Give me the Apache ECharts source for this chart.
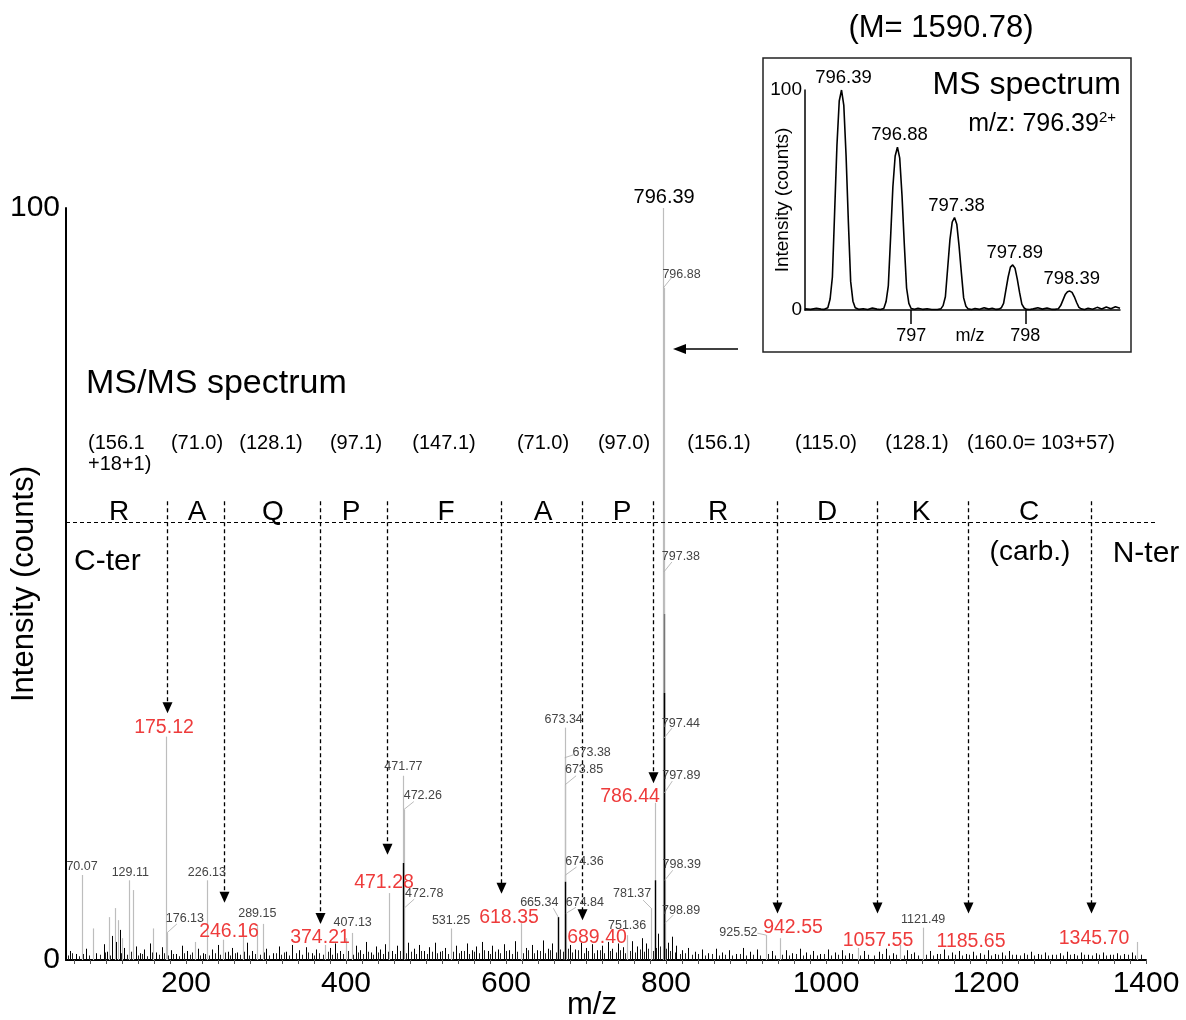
<!DOCTYPE html>
<html><head><meta charset="utf-8">
<script src="https://cdn.jsdelivr.net/npm/echarts@6/dist/echarts.min.js"></script>
<style>html,body{margin:0;padding:0;background:#fff}#c{width:1186px;height:1020px}</style>
</head><body><div id="c"></div>
<script>
// ---------------- DATA ----------------
const xTickLabels = [200, 400, 600, 800, 1000, 1200, 1400];
const yTickLabels = [0, 100];

// centroid (grey) peaks of the MS/MS spectrum: [m/z, relative intensity %]
const stickPeaks = [
  [70.07, 11.3], [84, 4.2], [104, 5.7], [111, 6.9], [115, 5.3], [120, 2.9],
  [129.11, 10.6], [134, 9.3], [159, 4.2], [175.12, 29.7], [176.13, 3.6], [211, 2.4],
  [226.13, 10.6], [246.16, 2.7], [271, 4.0], [289.15, 4.7], [296, 4.8], [374.21, 2.0],
  [400, 2.9], [407.13, 3.6], [454, 8.9], [471.77, 24.5], [472.26, 20.0], [472.78, 6.9],
  [531.25, 4.2], [618.35, 4.9], [665.34, 5.7], [673.34, 30.9], [673.38, 26.9],
  [673.85, 23.3], [674.36, 11.3], [674.84, 6.2], [751.36, 3.3], [781.37, 6.9],
  [786.44, 20.9], [796.39, 100], [796.88, 89.4], [797.38, 51.6], [797.44, 29.5],
  [797.89, 22.2], [798.39, 10.6], [798.89, 4.9], [925.52, 3.3], [942.55, 2.9],
  [1040, 1.6], [1092, 2.0], [1121.49, 4.3], [1389, 2.4]
];
// raw profile (black) peaks
const profilePeaks = [
  [471.8, 12.9], [665.34, 5.7], [673.5, 10.4], [786.6, 10.6], [797.1, 35.5]
];
const profileMidPeaks = [[797.0, 46]];
// baseline noise
const noisePeaks = [
  [55,1.2],[62,0.8],[75,1.5],[88,0.9],[97,2.1],[101,1.1],[108,3.2],[113,2.4],[117,4.0],[122,1.6],
  [137,1.8],[142,0.9],[148,1.4],[155,2.2],[163,1.0],[170,1.7],[181,1.3],[188,0.8],[195,1.9],[201,1.2],
  [215,1.5],[221,0.9],[233,1.4],[240,2.0],[252,1.1],[258,1.6],[264,1.0],[276,2.3],[283,1.2],[300,1.5],
  [309,0.9],[316,1.8],[325,1.1],[333,2.0],[341,1.3],[350,1.7],[357,0.9],[362,1.4],[380,1.6],[386,2.2],
  [392,1.2],[412,1.9],[418,1.3],[425,2.4],[431,1.0],[437,1.8],[443,1.4],[449,2.1],[458,1.2],[464,1.9],
  [478,2.3],[485,1.5],[491,2.0],[498,1.2],[504,1.7],[511,2.3],[517,1.1],[524,1.6],[538,1.9],[544,1.2],
  [551,2.2],[557,1.3],[563,1.8],[570,2.4],[577,1.2],[583,1.9],[590,1.4],[597,2.1],[604,1.3],[611,2.5],
  [625,1.6],[632,2.0],[639,1.3],[646,2.6],[652,1.5],[658,2.2],[680,2.0],[686,1.4],[694,2.3],[700,1.6],
  [707,2.1],[714,1.3],[720,1.9],[727,2.4],[733,1.5],[740,2.2],[746,1.7],[758,2.5],[764,1.8],[770,2.9],
  [775,2.2],[790,3.5],[803,2.3],[808,3.1],[813,1.9],[820,1.3],[828,1.6],[836,1.1],[845,1.4],[853,0.9],
  [862,1.5],[870,1.0],[879,1.3],[888,0.8],[896,1.6],[905,1.1],[914,1.4],[932,1.2],[950,1.3],[958,0.9],
  [967,1.5],[975,1.0],[984,1.2],[993,0.8],[1002,1.4],[1011,1.0],[1020,1.3],[1029,0.9],[1048,1.2],[1066,1.1],
  [1075,1.5],[1084,0.9],[1101,1.3],[1110,1.0],[1130,1.2],[1139,0.8],[1148,1.4],[1157,1.0],[1166,1.2],[1175,0.8],
  [1184,1.1],[1193,0.9],[1202,1.3],[1211,0.8],[1220,1.0],[1229,1.2],[1238,0.7],[1247,0.9],[1256,1.1],[1265,0.8],
  [1274,1.0],[1283,0.7],[1292,0.9],[1301,1.1],[1310,0.8],[1319,1.0],[1328,0.7],[1337,0.9],[1346,1.0],[1355,0.7],
  [1364,0.9],[1373,0.8],[1382,1.0]
];
// finer baseline fuzz
const noiseFine = [
  [52,0.6],[58,0.9],[66,0.5],[71,0.8],[79,0.6],[92,0.7],[99,1.0],[105,0.6],[119,0.9],[126,0.7],
  [131,1.1],[140,0.6],[145,0.8],[151,0.5],[158,1.0],[166,0.7],[173,0.9],[178,0.6],[184,0.8],[191,0.5],
  [198,0.9],[205,0.7],[208,1.0],[218,0.6],[224,0.8],[229,0.6],[236,0.9],[243,0.7],[249,1.0],[255,0.6],
  [261,0.9],[268,0.7],[273,1.1],[279,0.6],[286,0.8],[292,0.7],[298,1.0],[304,0.6],[312,0.9],[319,0.7],
  [322,1.0],[329,0.6],[337,0.9],[345,0.7],[353,1.0],[360,0.6],[366,0.9],[371,0.7],[377,1.1],[383,0.7],
  [389,0.9],[396,0.8],[403,1.2],[409,0.7],[415,1.0],[421,0.8],[428,1.1],[434,0.7],[440,1.0],[446,0.8],
  [452,1.1],[461,0.8],[467,1.2],[475,0.9],[481,1.1],[488,0.8],[494,1.2],[501,0.8],[507,1.1],[514,0.9],
  [520,1.2],[527,0.8],[534,1.1],[541,0.9],[547,1.2],[554,0.8],[560,1.1],[566,0.9],[573,1.3],[580,0.8],
  [586,1.1],[593,0.9],[600,1.2],[607,0.8],[614,1.1],[621,0.9],[628,1.3],[635,0.9],[642,1.2],[649,0.9],
  [655,1.3],[662,1.0],[668,1.4],[671,1.1],[677,1.5],[683,1.0],[690,1.3],[697,0.9],[703,1.2],[710,0.9],
  [717,1.3],[723,0.9],[730,1.2],[737,1.0],[743,1.3],[749,0.9],[755,1.2],[761,1.0],[767,1.4],[772,1.1],
  [778,1.5],[784,1.2],[788,1.6],[793,1.8],[800,1.5],[805,1.2],[811,1.0],[817,0.8],[824,0.9],[832,0.7],
  [840,0.8],[849,0.6],[857,0.8],[866,0.6],[874,0.7],[883,0.6],[892,0.8],[900,0.6],[909,0.7],[918,0.6],
  [927,0.8],[936,0.6],[945,0.7],[954,0.6],[962,0.8],[971,0.6],[980,0.7],[989,0.6],[998,0.8],[1006,0.6],
  [1015,0.7],[1024,0.6],[1033,0.8],[1043,0.6],[1052,0.7],[1060,0.6],[1070,0.8],[1079,0.6],[1088,0.7],[1097,0.6],
  [1106,0.8],[1115,0.6],[1125,0.7],[1134,0.6],[1143,0.8],[1152,0.6],[1161,0.7],[1170,0.6],[1179,0.7],[1188,0.6],
  [1197,0.7],[1206,0.6],[1215,0.7],[1224,0.6],[1233,0.7],[1242,0.6],[1251,0.7],[1260,0.6],[1269,0.7],[1278,0.6],
  [1287,0.7],[1296,0.6],[1305,0.7],[1314,0.6],[1323,0.7],[1332,0.6],[1341,0.7],[1350,0.6],[1359,0.7],[1368,0.6],
  [1377,0.7],[1386,0.6],[1394,0.7]
];
// peaks carrying a small black m/z label
const labeledMz = [70.07, 129.11, 176.13, 226.13, 289.15, 407.13, 471.77, 472.26, 472.78, 531.25,
  665.34, 673.34, 673.38, 673.85, 674.36, 674.84, 751.36, 781.37, 796.88, 797.38, 797.44,
  797.89, 798.39, 798.89, 925.52, 1121.49];
const basePeakMz = 796.39;

// fragment (y-ion) annotations
const fragmentLabels = ['175.12','246.16','374.21','471.28','618.35','689.40','786.44','942.55','1057.55','1185.65','1345.70'];
const arrowMz = [176.25, 247.5, 367.5, 451.25, 593.75, 695, 783.75, 938.75, 1063.75, 1177.5, 1331.25];
const arrowTip = [32.8, 7.6, 4.8, 14.0, 8.8, 5.3, 23.5, 6.2, 6.2, 6.2, 6.2];
const residues = ['R','A','Q','P','F','A','P','R','D','K','C'];
const residueMass = ['(156.1\n+18+1)','(71.0)','(128.1)','(97.1)','(147.1)','(71.0)','(97.0)','(156.1)','(115.0)','(128.1)','(160.0= 103+57)'];

// inset MS spectrum profile [m/z, intensity %]
const insetProfile = [
  [796.07,0.5],[796.12,0.3],[796.17,0.8],[796.21,0.4],
  [796.24,0.3],[796.27,1],[796.29,5],[796.31,15],[796.33,45],[796.35,75],[796.37,95],[796.39,100],[796.41,93],[796.43,70],[796.45,40],[796.47,13],[796.49,4],[796.51,1],[796.54,0.3],
  [796.58,0.6],[796.62,0.2],[796.66,0.9],[796.70,0.4],
  [796.73,0.2],[796.76,0.7],[796.78,3.7],[796.80,11],[796.82,33],[796.84,56],[796.86,70],[796.88,74],[796.90,69],[796.92,52],[796.94,30],[796.96,10],[796.98,3],[797.00,0.7],[797.03,0.3],
  [797.06,0.8],[797.10,0.3],[797.14,0.6],[797.18,0.2],
  [797.23,0.2],[797.26,0.5],[797.28,2],[797.30,6],[797.32,19],[797.34,32],[797.36,40],[797.38,42],[797.40,39],[797.42,29],[797.44,17],[797.46,5.5],[797.48,1.7],[797.50,0.5],[797.53,0.2],
  [797.56,0.7],[797.60,0.3],[797.64,1.0],[797.68,0.4],[797.71,0.8],
  [797.74,0.3],[797.77,0.4],[797.79,1],[797.81,3],[797.83,9],[797.85,15],[797.87,19.5],[797.89,20.5],[797.91,19],[797.93,14],[797.95,8],[797.97,2.7],[797.99,0.9],[798.01,0.3],[798.04,0.2],
  [798.07,0.5],[798.11,1.0],[798.15,0.4],[798.19,0.9],[798.23,0.3],
  [798.26,0.3],[798.29,0.6],[798.31,2],[798.33,4.5],[798.35,7],[798.37,8.3],[798.39,8.6],[798.41,8],[798.43,6],[798.45,3.4],[798.47,1.2],[798.49,0.5],[798.52,0.2],
  [798.55,0.8],[798.59,0.3],[798.63,1.2],[798.67,0.5],[798.71,1.4],[798.75,0.6],[798.79,1.5],[798.83,0.8]
];
const insetPeakMz = [796.39, 796.88, 797.38, 797.89, 798.39];
const insetPeakInt = [100, 74, 42, 20.5, 8.6];
const insetTicks = [797, 798];

// ---------------- LAYOUT (positions / styles) ----------------
const FONT = "'Liberation Sans', Arial, Helvetica, sans-serif";
const GREY = '#bdbdbd';
const RED = '#ee3b3b';
// label offsets from peak top: [dx, dy, leaderEndDx, leaderEndDy]
const labelOffsets = {
  '70.07':[0,-8], '129.11':[1,-8], '176.13':[18,-14,10,-9], '226.13':[0,-8], '289.15':[0,-11],
  '407.13':[1,-10], '471.77':[0,-9], '472.26':[19,-14,10,-8], '472.78':[20,-15,10,-9],
  '531.25':[0,-8], '665.34':[-19,-15,-5,-9], '673.34':[-1,-8], '673.38':[27,-5,9,-3],
  '673.85':[19,-15,11,-9], '674.36':[19,-13,11,-8], '674.84':[19,-11,10,-6], '751.36':[0,-10],
  '781.37':[-19,-15,-8,-8], '796.88':[18,-13,8,-10], '797.38':[17,-15,8,-10], '797.44':[17,-15,8,-10],
  '797.89':[17,-18,8,-12], '798.39':[17,-16,8,-10], '798.89':[16,-13,8,-8], '925.52':[-28,-3,-9,-2],
  '1121.49':[0,-8]
};
const fragLabelOffsets = [[-3,14],[5,29],[0,14],[-3,28],[8,24],[15,17],[-23,13],[16,14],[1,27],[3,28],[3,25]];
const arrowTopY = 61;          // in intensity units
const seqLineY = 58.25;
const seqLineX = [50, 1413.75];
const residueX = [116.25, 213.75, 308.75, 406.25, 525, 646.25, 745, 865, 1001.25, 1118.75, 1253.75];
const residueY = 59.6;
const massX = [77.5, 213.75, 306.25, 412.5, 522.5, 646.25, 747.5, 866.25, 1000, 1113.75, 1268.75];
const massY = 70.1;
const mainTexts = [
  {t:'MS/MS spectrum', x:75, y:76.6, size:34, align:'left'},
  {t:'C-ter', x:60, y:52.9, size:30, align:'left'},
  {t:'(carb.)', x:1255, y:54.25, size:28, align:'center'},
  {t:'N-ter', x:1400, y:54, size:30, align:'center'}
];
const callout = {from:[890, 81.25], to:[808.75, 81.25]};

const stickMap = {};
stickPeaks.forEach(p => { stickMap[p[0].toFixed(2)] = p[1]; });
const basePeakInt = stickMap[basePeakMz.toFixed(2)];

function stickSeries(data, color, width, z) {
  return {
    type: 'custom', xAxisIndex: 0, yAxisIndex: 0, z: z, clip: false,
    data: data, encode: {x: 0, y: 1}, silent: true,
    renderItem: function (params, api) {
      const a = api.coord([api.value(0), 0]);
      const b = api.coord([api.value(0), api.value(1)]);
      const x = Math.round(a[0]) + 0.5;
      return {type: 'line', shape: {x1: x, y1: a[1], x2: x, y2: b[1]},
        style: {stroke: color, lineWidth: width}};
    }
  };
}
const plain = v => String(v);

const chart = echarts.init(document.getElementById('c'), null, {renderer: 'canvas'});
const option = {
  animation: false,
  backgroundColor: '#fff',
  textStyle: {fontFamily: FONT},
  grid: [
    {left: 66, top: 208, width: 1080, height: 752, containLabel: false, outerBoundsMode: 'none'},
    {left: 805, top: 90, width: 315, height: 220, containLabel: false, outerBoundsMode: 'none'}
  ],
  xAxis: [
    {
      type: 'value', gridIndex: 0, min: 50, max: 1400,
      axisLine: {lineStyle: {color: '#000', width: 2}},
      axisTick: {show: true, customValues: Array.from({length: 68}, (_, i) => 60 + i * 20), length: 4, lineStyle: {color: '#555', width: 1}},
      axisLabel: {customValues: xTickLabels, formatter: plain, fontSize: 30, color: '#000', margin: 9, fontFamily: FONT},
      splitLine: {show: false},
      name: 'm/z', nameLocation: 'middle', nameGap: 30, nameMoveOverlap: false,
      nameTextStyle: {fontSize: 31, color: '#000', fontFamily: FONT, padding: [0, 28, 0, 0]}
    },
    {
      type: 'value', gridIndex: 1, min: 796.07, max: 798.83,
      axisLine: {lineStyle: {color: '#000', width: 1.5}},
      axisTick: {show: true, customValues: insetTicks, length: 14, lineStyle: {color: '#000', width: 1.5}},
      axisLabel: {customValues: insetTicks, formatter: plain, fontSize: 18, color: '#000', margin: 17, fontFamily: FONT},
      splitLine: {show: false},
      name: 'm/z', nameLocation: 'middle', nameGap: 17, nameMoveOverlap: false,
      nameTextStyle: {fontSize: 18, color: '#000', fontFamily: FONT, padding: [0, 0, 0, 15]}
    }
  ],
  yAxis: [
    {
      type: 'value', gridIndex: 0, min: 0, max: 100,
      axisLine: {show: true, lineStyle: {color: '#000', width: 2}},
      axisTick: {show: false},
      axisLabel: {customValues: yTickLabels, formatter: plain, fontSize: 30, color: '#000', margin: 6, fontFamily: FONT},
      splitLine: {show: false},
      name: 'Intensity (counts)', nameLocation: 'middle', nameGap: 26, nameRotate: 90, nameMoveOverlap: false,
      nameTextStyle: {fontSize: 31, color: '#000', fontFamily: FONT}
    },
    {
      type: 'value', gridIndex: 1, min: 0, max: 100,
      axisLine: {show: true, lineStyle: {color: '#000', width: 1.5}},
      axisTick: {show: false},
      axisLabel: {customValues: [0, 100], formatter: plain, fontSize: 19, color: '#000', margin: 3, fontFamily: FONT},
      splitLine: {show: false},
      name: 'Intensity (counts)', nameLocation: 'middle', nameGap: 13, nameRotate: 90, nameMoveOverlap: false,
      nameTextStyle: {fontSize: 19, color: '#000', fontFamily: FONT}
    }
  ],
  graphic: [
    {type: 'rect', shape: {x: 763, y: 58, width: 368, height: 294}, style: {fill: 'none', stroke: '#222', lineWidth: 1.5}, z: 1},
    {type: 'text', x: 941, y: 28, style: {text: '(M= 1590.78)', font: '31px ' + FONT, fill: '#000', align: 'center', verticalAlign: 'middle'}},
    {type: 'text', x: 1121, y: 85, style: {text: 'MS spectrum', font: '32px ' + FONT, fill: '#000', align: 'right', verticalAlign: 'middle'}},
    {type: 'text', x: 1116, y: 124, style: {
      text: '{a|m/z: 796.39}{s|2+}', align: 'right', verticalAlign: 'middle',
      rich: {a: {fontSize: 25, fontFamily: FONT, fill: '#000'}, s: {fontSize: 15, fontFamily: FONT, fill: '#000', padding: [0, 0, 13, 0]}}
    }}
  ],
  series: [
    stickSeries(noiseFine, '#222', 1, 3),
    stickSeries(noisePeaks, '#000', 1, 3),
    stickSeries(stickPeaks, GREY, 1.2, 2),
    stickSeries(profileMidPeaks, '#777', 1.4, 4),
    stickSeries(profilePeaks, '#000', 1.4, 5),
    // small black m/z labels with leaders
    {
      type: 'custom', xAxisIndex: 0, yAxisIndex: 0, z: 10, clip: false, silent: true,
      data: labeledMz.map(m => [m, stickMap[m.toFixed(2)]]), encode: {x: 0, y: 1},
      renderItem: function (params, api) {
        const txt = labeledMz[params.dataIndex].toFixed(2);
        const off = labelOffsets[txt];
        const p = api.coord([api.value(0), api.value(1)]);
        const ch = [{type: 'text', x: p[0] + off[0], y: p[1] + off[1],
          style: {text: txt, font: '12.5px ' + FONT, fill: '#444', align: 'center', verticalAlign: 'middle'}}];
        if (off.length > 2) {
          ch.push({type: 'line', shape: {x1: p[0], y1: p[1], x2: p[0] + off[2], y2: p[1] + off[3]},
            style: {stroke: '#aaa', lineWidth: 0.8}});
        }
        return {type: 'group', children: ch};
      }
    },
    // base peak label
    {
      type: 'custom', xAxisIndex: 0, yAxisIndex: 0, z: 10, clip: false, silent: true,
      data: [[basePeakMz, basePeakInt]], encode: {x: 0, y: 1},
      renderItem: function (params, api) {
        const p = api.coord([api.value(0), api.value(1)]);
        return {type: 'text', x: p[0] + 1, y: p[1] - 11,
          style: {text: basePeakMz.toFixed(2), font: '20px ' + FONT, fill: '#000', align: 'center', verticalAlign: 'middle'}};
      }
    },
    // fragment arrows + red labels
    {
      type: 'custom', xAxisIndex: 0, yAxisIndex: 0, z: 8, clip: false, silent: true,
      data: arrowMz.map((m, i) => [m, arrowTip[i]]), encode: {x: 0, y: 1},
      renderItem: function (params, api) {
        const i = params.dataIndex;
        const top = api.coord([api.value(0), arrowTopY]);
        const tip = api.coord([api.value(0), api.value(1)]);
        const x = Math.round(tip[0]) + 0.5;
        const off = fragLabelOffsets[i];
        return {type: 'group', children: [
          {type: 'line', shape: {x1: x, y1: top[1], x2: x, y2: tip[1] - 9},
            style: {stroke: '#000', lineWidth: 1.3, lineDash: [4, 3]}},
          {type: 'polygon', shape: {points: [[x - 5, tip[1] - 11], [x + 5, tip[1] - 11], [x, tip[1]]]},
            style: {fill: '#000'}},
          {type: 'text', x: tip[0] + off[0], y: tip[1] + off[1],
            style: {text: fragmentLabels[i], font: '19.5px ' + FONT, fill: RED, align: 'center', verticalAlign: 'middle'}}
        ]};
      }
    },
    // sequence line, residues, masses, texts, callout arrow
    {
      type: 'custom', xAxisIndex: 0, yAxisIndex: 0, z: 7, clip: false, silent: true,
      data: [[0, 0]], encode: {x: 0, y: 1},
      renderItem: function (params, api) {
        const ch = [];
        const a = api.coord([seqLineX[0], seqLineY]);
        const b = api.coord([seqLineX[1], seqLineY]);
        const yy = Math.round(a[1]) + 0.5;
        ch.push({type: 'line', shape: {x1: a[0], y1: yy, x2: b[0], y2: yy},
          style: {stroke: '#000', lineWidth: 1.2, lineDash: [4, 3]}});
        residues.forEach((r, i) => {
          const p = api.coord([residueX[i], residueY]);
          ch.push({type: 'text', x: p[0], y: p[1], style: {text: r, font: '28px ' + FONT, fill: '#000', align: 'center', verticalAlign: 'middle'}});
        });
        residueMass.forEach((t, i) => {
          const p = api.coord([massX[i], massY]);
          ch.push({type: 'text', x: p[0], y: p[1], style: {text: t, font: '20px ' + FONT, lineHeight: 21, fill: '#000', align: i === 0 ? 'left' : 'center', verticalAlign: 'top'}});
        });
        mainTexts.forEach(o => {
          const p = api.coord([o.x, o.y]);
          ch.push({type: 'text', x: p[0], y: p[1], style: {text: o.t, font: o.size + 'px ' + FONT, fill: '#000', align: o.align, verticalAlign: 'middle'}});
        });
        const f = api.coord(callout.from), t = api.coord(callout.to);
        ch.push({type: 'line', shape: {x1: f[0], y1: f[1], x2: t[0] + 10, y2: t[1]}, style: {stroke: '#000', lineWidth: 1.5}});
        ch.push({type: 'polygon', shape: {points: [[t[0], t[1]], [t[0] + 13, t[1] - 5], [t[0] + 13, t[1] + 5]]}, style: {fill: '#000'}});
        return {type: 'group', children: ch};
      }
    },
    // inset profile
    {
      type: 'line', xAxisIndex: 1, yAxisIndex: 1, data: insetProfile, symbol: 'none', silent: true,
      lineStyle: {color: '#000', width: 1.6}, z: 5
    },
    {
      type: 'custom', xAxisIndex: 1, yAxisIndex: 1, z: 10, clip: false, silent: true,
      data: insetPeakMz.map((m, i) => [m, insetPeakInt[i]]), encode: {x: 0, y: 1},
      renderItem: function (params, api) {
        const p = api.coord([api.value(0), api.value(1)]);
        return {type: 'text', x: p[0] + 2, y: p[1] - 12,
          style: {text: insetPeakMz[params.dataIndex].toFixed(2), font: '18.5px ' + FONT, fill: '#000', align: 'center', verticalAlign: 'middle'}};
      }
    }
  ]
};
chart.setOption(option);
</script></body></html>
